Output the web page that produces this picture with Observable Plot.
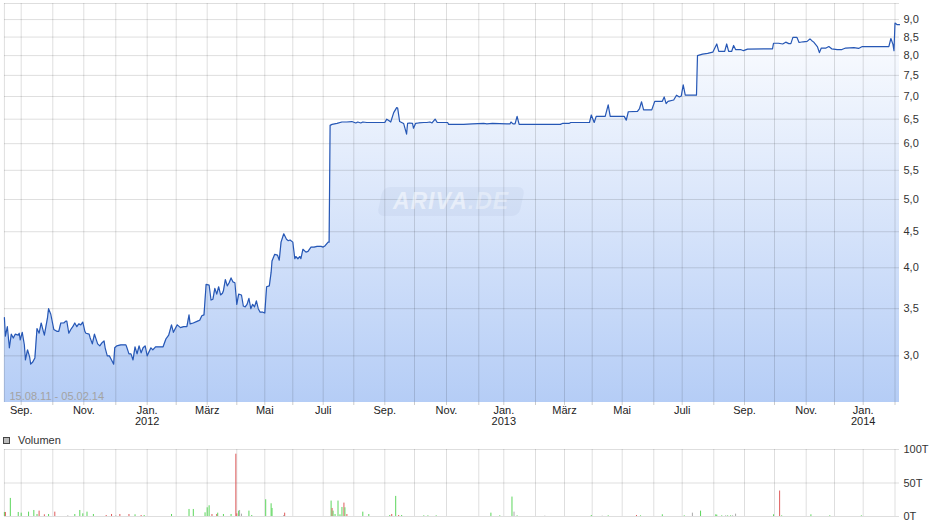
<!DOCTYPE html>
<html><head><meta charset="utf-8">
<script src="https://cdn.jsdelivr.net/npm/d3@7"></script>
<script src="https://cdn.jsdelivr.net/npm/@observablehq/plot@0.6"></script>
<style>
body{margin:0;background:#fff;font-family:"Liberation Sans",Arial,sans-serif;}
#wrap{position:relative;width:940px;height:526px;overflow:hidden;}
#main{position:absolute;left:0;top:0;}
#vol{position:absolute;left:0;top:443px;}
#legend{position:absolute;left:3px;top:433px;font-size:11px;color:#333;display:flex;align-items:center;height:14px;}
#legend .sw{width:5px;height:5px;background:#bbb;border:1px solid #444;margin-right:8px;}
#wm{position:absolute;left:380px;top:187px;width:142px;height:29px;border-radius:7px;background:rgba(140,160,200,0.10);transform:skewX(-12deg);}
#wmt{position:absolute;left:386px;top:187px;width:130px;height:29px;line-height:29px;font-size:23px;font-weight:bold;font-style:italic;color:rgba(255,255,255,0.5);letter-spacing:1px;text-align:center;}
</style></head>
<body>
<div id="wrap">
  <div id="main"></div>
  <div id="wm"></div>
  <div id="wmt">ARIVA<span style="color:rgba(255,255,255,0.35)">.DE</span></div>
  <div id="legend"><div class="sw"></div><span>Volumen</span></div>
  <div id="vol"></div>
</div>
<script>
// ---- data (days counted from 15.08.2011) ----
const startDate = "2011-08-15";
const endDate = "2014-02-05";
const dateRangeLabel = "15.08.11 - 05.02.14";
const monthLabels = ["Jan.","Feb.","März","Apr.","Mai","Juni","Juli","Aug.","Sep.","Okt.","Nov.","Dez."];
const priceTicks = [3.0,3.5,4.0,4.5,5.0,5.5,6.0,6.5,7.0,7.5,8.0,8.5,9.0];
const volumeTicks = [0,50,100];

const priceDays = [0,1,3,5,7,9,11,14,15,16,18,20,21,23,25,26,28,30,32,34,36,38,39,42,43,45,48,51,53,55,58,60,61,63,65,67,69,71,73,75,77,79,80,83,84,86,88,91,93,95,97,98,100,102,104,106,107,109,113,118,119,121,123,125,127,129,131,133,135,137,139,141,143,145,148,152,156,159,162,165,167,171,174,177,180,182,183,186,190,192,194,196,198,201,203,205,207,209,211,213,215,216,218,220,222,224,226,228,230,232,235,237,239,241,243,245,247,249,251,253,255,258,260,262,265,267,268,271,274,276,278,281,284,286,288,291,293,294,296,298,299,301,304,306,309,312,315,319,321,323,326,327,328,330,335,340,345,350,354,356,359,361,365,379,383,385,387,389,392,395,396,398,400,402,405,406,408,411,412,414,417,422,425,428,430,433,435,445,446,460,468,480,484,491,508,511,512,514,516,518,520,560,562,569,571,592,594,597,599,608,611,613,627,629,631,640,642,644,646,654,657,665,667,669,671,677,680,683,685,687,689,700,701,706,711,716,720,722,728,730,732,735,737,739,744,747,751,776,777,782,786,789,792,794,796,800,802,806,810,813,815,817,821,823,825,830,833,836,842,847,851,860,865,869,895,897,899,900,901,903,905];
const priceValues = [3.40,3.20,3.30,3.08,3.22,3.18,3.22,3.21,3.23,3.16,3.24,3.11,2.96,3.06,2.99,2.92,2.94,2.98,3.28,3.23,3.34,3.25,3.21,3.40,3.50,3.44,3.27,3.25,3.25,3.34,3.34,3.36,3.36,3.23,3.27,3.30,3.34,3.30,3.33,3.32,3.35,3.25,3.23,3.22,3.18,3.12,3.22,3.12,3.10,3.13,3.15,3.08,3.00,3.00,2.96,2.92,3.08,3.10,3.11,3.11,3.08,3.02,3.02,2.96,3.09,3.02,3.10,3.03,3.08,3.10,3.00,3.04,3.08,3.06,3.09,3.09,3.09,3.17,3.21,3.32,3.24,3.32,3.29,3.30,3.30,3.43,3.33,3.34,3.36,3.37,3.42,3.43,3.79,3.78,3.60,3.61,3.74,3.67,3.76,3.66,3.68,3.71,3.85,3.77,3.81,3.87,3.82,3.81,3.55,3.67,3.66,3.53,3.52,3.55,3.62,3.50,3.55,3.52,3.59,3.50,3.46,3.46,3.45,3.76,3.77,3.94,4.09,4.18,4.17,4.10,4.35,4.47,4.39,4.37,4.38,4.35,4.12,4.15,4.12,4.15,4.12,4.25,4.21,4.22,4.28,4.28,4.29,4.29,4.28,4.30,4.35,4.35,6.37,6.39,6.41,6.44,6.44,6.45,6.42,6.44,6.42,6.44,6.43,6.43,6.43,6.50,6.47,6.44,6.64,6.75,6.74,6.45,6.43,6.41,6.19,6.41,6.42,6.41,6.31,6.41,6.42,6.43,6.43,6.44,6.42,6.50,6.43,6.43,6.39,6.39,6.40,6.41,6.40,6.41,6.40,6.40,6.44,6.40,6.40,6.56,6.39,6.39,6.41,6.41,6.43,6.43,6.59,6.43,6.56,6.56,6.81,6.56,6.56,6.48,6.66,6.67,6.73,6.88,6.70,6.70,6.89,6.89,6.99,6.84,6.89,6.92,7.03,6.99,7.01,7.27,7.03,7.03,8.00,8.04,8.06,8.09,8.31,8.11,8.11,8.31,8.11,8.11,8.27,8.16,8.16,8.13,8.17,8.18,8.33,8.33,8.31,8.36,8.32,8.32,8.49,8.49,8.35,8.37,8.38,8.45,8.40,8.36,8.23,8.08,8.20,8.20,8.24,8.18,8.16,8.16,8.20,8.21,8.19,8.24,8.24,8.46,8.30,8.13,8.90,8.85,8.85];

// volume in thousands (T); direction: u = up, d = down, n = unchanged
const volDays   = [0,1,6,14,17,24,29,32,34,39,43,49,62,69,74,77,81,87,99,104,108,112,121,127,133,136,165,182,186,197,199,201,204,209,210,216,224,229,230,232,233,235,243,246,261,267,268,281,282,329,330,331,333,336,338,340,342,343,345,361,367,388,390,394,397,400,422,426,434,489,500,513,515,518,545,594,605,611,639,643,665,688,696,704,719,720,725,729,731,734,736,739,777,783,785,814,834,868];
const volValues = [6,6,27,6,5,6.5,9,3,8,2.5,3,6.5,1,3,9,4,6.5,3,1.5,3,1,3,3,2.5,1.5,1.5,3,10.5,10.5,5.5,13,16,3,3,5,3,3,93,4,8,9,3.5,8,1.5,25,19,12,1.5,5,23,12,8,3,23,2.5,13.5,20,13,3,6.5,3,1.5,3,30,1.5,1.5,1,1,1,5,1,29,6.5,1,0.5,1.5,0.5,1,1.5,1,2.5,1,5,8,2.5,2,1,1,1,1,1,3.5,2.5,38,1,2.5,1,1];
const volDirs   = ["u","d","u","u","u","u","u","u","d","d","u","d","n","u","u","u","u","u","d","d","n","d","d","u","d","u","u","u","u","u","u","u","d","d","u","u","u","d","d","u","n","n","u","u","u","u","u","n","d","u","d","u","u","u","u","u","d","u","d","u","u","u","d","u","d","u","u","u","u","u","u","u","n","u","n","u","n","u","d","u","u","u","n","u","u","u","u","n","u","u","n","n","u","d","u","u","u","u"];

// ---- build ----
const start = new Date(startDate + "T00:00Z");
const end = new Date(endDate + "T00:00Z");
const toDate = d => d3.utcDay.offset(start, d);
const prices = priceDays.map((d, i) => ({date: toDate(d), value: priceValues[i]}));
const volumes = volDays.map((d, i) => ({date: toDate(d), value: volValues[i], dir: volDirs[i]}));
const dirColor = {u: "#5cd65c", d: "#df5b5b", n: "#aaaaaa"};

const monthTicks = d3.utcMonth.range(d3.utcMonth.ceil(start), end);
const labelTicks = monthTicks.filter(d => d.getUTCMonth() % 2 === 0);
const monthFmt = d => monthLabels[d.getUTCMonth()] + (d.getUTCMonth() === 0 ? "\n" + d.getUTCFullYear() : "");

// the time axis is spaced by trading days: piecewise scale through month starts
const xDomain = [start, ...monthTicks, end];
const xRange = [3.9,20.7,52.3,83.3,115.3,146.7,175.7,206.7,236.3,264.3,292.3,322.7,353.3,384.3,414,446,478.3,503.3,535,564,591.7,621.7,653.3,681.7,713.3,744,774,805.7,834,862.7,894.5,899];
const xScale = {type: "utc", domain: xDomain, range: xRange, label: null};

const yDomain = [2.576, 9.485];
const gridStyle = {stroke: "#000", strokeOpacity: 0.13};
const font = {fontFamily: "'Liberation Sans', Arial, sans-serif", fontSize: "11px", background: "transparent", overflow: "visible"};

const gradient = () => {
  const defs = d3.create("svg:defs");
  const g = defs.append("linearGradient").attr("id", "pgrad").attr("x1", 0).attr("y1", 0).attr("x2", 0).attr("y2", 1);
  g.append("stop").attr("offset", "0%").attr("stop-color", "#fcfdff");
  g.append("stop").attr("offset", "100%").attr("stop-color", "#b5cdf6");
  return defs.node();
};

const mainChart = Plot.plot({
  width: 940, height: 432,
  marginTop: 3, marginBottom: 30, marginLeft: 4, marginRight: 41,
  style: font,
  x: xScale,
  y: {type: "log", domain: yDomain, label: null},
  marks: [
    gradient,
    Plot.areaY(prices, {x: "date", y1: yDomain[0], y2: "value", fill: "url(#pgrad)"}),
    Plot.gridX(monthTicks, gridStyle),
    Plot.gridY(priceTicks, gridStyle),
    Plot.ruleY([yDomain[1]], gridStyle),
    Plot.ruleX([start], gridStyle),
    Plot.lineY(prices, {x: "date", y: "value", stroke: "#2657b5", strokeWidth: 1.2}),
    Plot.axisX(monthTicks, {tickSize: 3, tickFormat: () => "", stroke: "#ccc", label: null}),
    Plot.axisX(labelTicks, {tickSize: 0, tickPadding: 4, tickFormat: monthFmt, fill: "#222", label: null}),
    Plot.axisY(priceTicks, {anchor: "right", tickSize: 0, tickPadding: 4, tickFormat: d => d.toFixed(1).replace(".", ","), fill: "#333", label: null}),
    Plot.text([dateRangeLabel], {frameAnchor: "bottom-left", dx: 5, dy: -3, fill: "#a3a3a3", textAnchor: "start", fontSize: 11})
  ]
});
document.getElementById("main").append(mainChart);

const volChart = Plot.plot({
  width: 940, height: 83,
  marginTop: 6, marginBottom: 10, marginLeft: 4, marginRight: 41,
  style: font,
  x: {...xScale, axis: null},
  y: {domain: [0, 100], label: null},
  color: {type: "identity"},
  marks: [
    Plot.gridX(monthTicks, gridStyle),
    Plot.gridY(volumeTicks, gridStyle),
    Plot.ruleX([start], gridStyle),
    Plot.ruleX(volumes, {x: "date", y1: 0, y2: "value", stroke: d => dirColor[d.dir], strokeWidth: 1}),
    Plot.axisY(volumeTicks, {anchor: "right", tickSize: 0, tickPadding: 4, tickFormat: d => d + "T", fill: "#333", label: null})
  ]
});
document.getElementById("vol").append(volChart);
</script>
</body></html>
